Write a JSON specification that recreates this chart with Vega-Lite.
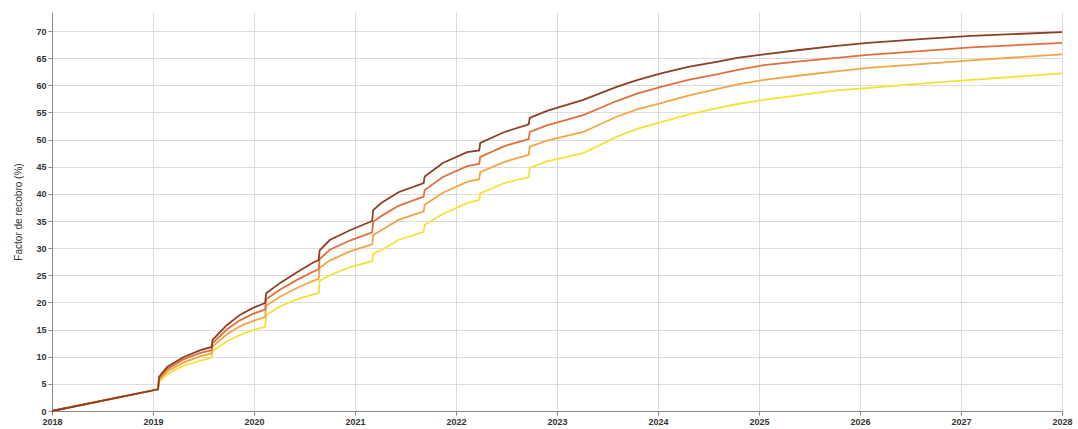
{
  "$schema": "https://vega.github.io/schema/vega-lite/v6.json",
  "width": 1010,
  "height": 399,
  "autosize": {"type": "none"},
  "padding": {"left": 52, "top": 12, "right": 16, "bottom": 18},
  "background": "white",
  "config": {
    "font": "Liberation Sans",
    "view": {"stroke": null},
    "axis": {
      "gridColor": "#dcdcdc",
      "gridWidth": 1,
      "domainColor": "#8a8a8a",
      "tickColor": "#8a8a8a",
      "tickSize": 4,
      "labelFont": "Liberation Sans",
      "labelFontSize": 9,
      "labelFontWeight": "bold",
      "labelColor": "#333333",
      "titleFont": "Liberation Sans",
      "titleFontSize": 10,
      "titleFontWeight": "normal",
      "titleColor": "#333333"
    }
  },
  "data": {
    "values": [
      {"t": 2018.0, "P1": 0, "P2": 0, "P3": 0, "P4": 0},
      {"t": 2019.05, "P1": 4.0, "P2": 4.0, "P3": 4.0, "P4": 4.0},
      {"t": 2019.06, "P1": 6.3, "P2": 6.0, "P3": 5.7, "P4": 5.3},
      {"t": 2019.14, "P1": 8.1, "P2": 7.7, "P3": 7.3, "P4": 6.8},
      {"t": 2019.30, "P1": 9.9, "P2": 9.5, "P3": 8.9, "P4": 8.3},
      {"t": 2019.47, "P1": 11.2, "P2": 10.7, "P3": 10.1, "P4": 9.3},
      {"t": 2019.58, "P1": 11.8, "P2": 11.2, "P3": 10.6, "P4": 9.8},
      {"t": 2019.59, "P1": 13.1, "P2": 12.5, "P3": 11.9, "P4": 11.0},
      {"t": 2019.73, "P1": 15.8, "P2": 15.0, "P3": 14.1, "P4": 12.8},
      {"t": 2019.86, "P1": 17.7, "P2": 16.7, "P3": 15.6, "P4": 14.0},
      {"t": 2019.99, "P1": 19.0, "P2": 17.9, "P3": 16.6, "P4": 14.9},
      {"t": 2020.11, "P1": 19.9, "P2": 18.7, "P3": 17.3, "P4": 15.5},
      {"t": 2020.12, "P1": 21.7, "P2": 20.6, "P3": 19.4, "P4": 17.7},
      {"t": 2020.26, "P1": 23.6, "P2": 22.4, "P3": 21.1, "P4": 19.3},
      {"t": 2020.43, "P1": 25.6, "P2": 24.2, "P3": 22.7, "P4": 20.6},
      {"t": 2020.59, "P1": 27.4, "P2": 25.7, "P3": 24.0, "P4": 21.5},
      {"t": 2020.64, "P1": 27.8, "P2": 26.1, "P3": 24.3, "P4": 21.7},
      {"t": 2020.65, "P1": 29.6, "P2": 28.0, "P3": 26.4, "P4": 24.0},
      {"t": 2020.75, "P1": 31.5, "P2": 29.7, "P3": 27.7, "P4": 25.0},
      {"t": 2020.95, "P1": 33.3, "P2": 31.4, "P3": 29.4, "P4": 26.5},
      {"t": 2021.17, "P1": 35.0, "P2": 32.9, "P3": 30.7, "P4": 27.6},
      {"t": 2021.18, "P1": 37.0, "P2": 34.8, "P3": 32.4, "P4": 29.0},
      {"t": 2021.26, "P1": 38.3, "P2": 35.9, "P3": 33.3, "P4": 29.6},
      {"t": 2021.43, "P1": 40.3, "P2": 37.8, "P3": 35.2, "P4": 31.5},
      {"t": 2021.68, "P1": 42.0, "P2": 39.5, "P3": 36.8, "P4": 33.0},
      {"t": 2021.69, "P1": 43.2, "P2": 40.7, "P3": 38.0, "P4": 34.3},
      {"t": 2021.87, "P1": 45.7, "P2": 43.1, "P3": 40.2, "P4": 36.3},
      {"t": 2022.11, "P1": 47.7, "P2": 45.1, "P3": 42.2, "P4": 38.3},
      {"t": 2022.23, "P1": 48.0, "P2": 45.5, "P3": 42.7, "P4": 38.9},
      {"t": 2022.24, "P1": 49.4, "P2": 46.8, "P3": 44.0, "P4": 40.1},
      {"t": 2022.48, "P1": 51.4, "P2": 48.8, "P3": 45.9, "P4": 42.0},
      {"t": 2022.72, "P1": 52.8, "P2": 50.1, "P3": 47.2, "P4": 43.1},
      {"t": 2022.73, "P1": 54.0, "P2": 51.4, "P3": 48.7, "P4": 44.8},
      {"t": 2022.90, "P1": 55.3, "P2": 52.6, "P3": 49.8, "P4": 46.0},
      {"t": 2023.26, "P1": 57.3, "P2": 54.5, "P3": 51.4, "P4": 47.5},
      {"t": 2023.59, "P1": 59.7, "P2": 57.1, "P3": 54.2, "P4": 50.5},
      {"t": 2023.80, "P1": 61.0, "P2": 58.5, "P3": 55.6, "P4": 52.0},
      {"t": 2024.03, "P1": 62.2, "P2": 59.7, "P3": 56.7, "P4": 53.2},
      {"t": 2024.30, "P1": 63.4, "P2": 61.0, "P3": 58.1, "P4": 54.6},
      {"t": 2024.58, "P1": 64.3, "P2": 62.0, "P3": 59.3, "P4": 55.8},
      {"t": 2024.80, "P1": 65.1, "P2": 62.9, "P3": 60.2, "P4": 56.6},
      {"t": 2025.05, "P1": 65.7, "P2": 63.7, "P3": 61.0, "P4": 57.3},
      {"t": 2025.40, "P1": 66.5, "P2": 64.4, "P3": 61.8, "P4": 58.2},
      {"t": 2025.74, "P1": 67.2, "P2": 65.0, "P3": 62.5, "P4": 59.0},
      {"t": 2026.08, "P1": 67.8, "P2": 65.6, "P3": 63.2, "P4": 59.5},
      {"t": 2026.60, "P1": 68.5, "P2": 66.3, "P3": 63.9, "P4": 60.3},
      {"t": 2027.10, "P1": 69.1, "P2": 67.0, "P3": 64.6, "P4": 61.0},
      {"t": 2028.0, "P1": 69.8, "P2": 67.8, "P3": 65.7, "P4": 62.2}
    ]
  },
  "transform": [
    {"fold": ["P4", "P3", "P2", "P1"], "as": ["serie", "valor"]}
  ],
  "mark": {"type": "line", "strokeWidth": 1.8, "interpolate": "linear"},
  "encoding": {
    "x": {
      "field": "t",
      "type": "quantitative",
      "scale": {"domain": [2018, 2028], "nice": false, "zero": false},
      "axis": {
        "title": null,
        "values": [2018, 2019, 2020, 2021, 2022, 2023, 2024, 2025, 2026, 2027, 2028],
        "format": "d",
        "labelPadding": 2,
        "labelFlush": false
      }
    },
    "y": {
      "field": "valor",
      "type": "quantitative",
      "scale": {"domain": [0, 73.5], "nice": false},
      "axis": {
        "title": "Factor de recobro (%)",
        "values": [0, 5, 10, 15, 20, 25, 30, 35, 40, 45, 50, 55, 60, 65, 70],
        "labelPadding": 2,
        "titlePadding": 12
      }
    },
    "color": {
      "field": "serie",
      "type": "nominal",
      "scale": {
        "domain": ["P1", "P2", "P3", "P4"],
        "range": ["#8c3f22", "#e0703c", "#f2a544", "#f5e13a"]
      },
      "legend": null
    },
    "detail": {"field": "serie"}
  }
}
